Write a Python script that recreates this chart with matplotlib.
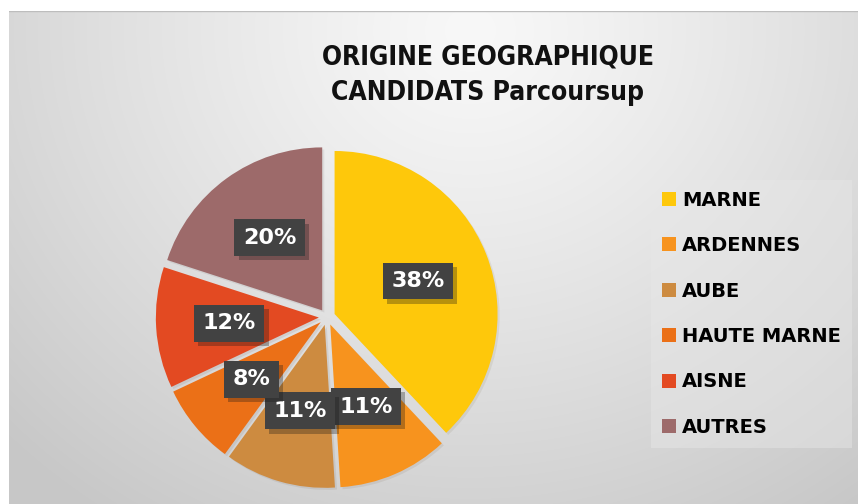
import numpy as np
import matplotlib
matplotlib.use('Agg')
import matplotlib.pyplot as plt
import matplotlib.patheffects as pe
from matplotlib.patches import Patch

# données
categories = ['MARNE', 'ARDENNES', 'AUBE', 'HAUTE MARNE', 'AISNE', 'AUTRES']
pourcentages = [38, 11, 11, 8, 12, 20]
couleurs = ['#FEC80B', '#F7931E', '#CD8B40', '#EB7017', '#E34A22', '#9D6A6A']
titre = 'ORIGINE GEOGRAPHIQUE\nCANDIDATS Parcoursup'

W, H = 858, 504
fig = plt.figure(figsize=(W / 100, H / 100), dpi=100, facecolor='white')

# fond dégradé gris
bg = fig.add_axes([9 / W, 0, (W - 9) / W, (H - 11) / H])
xx, yy = np.meshgrid(np.arange(9, W), np.arange(11, H))
d = np.sqrt((xx - 470) ** 2 + ((yy - 30) * 1.1) ** 2)
v = 248 - 48 * np.clip(d / 640, 0, 1) ** 1.2
img = np.dstack([v, v, v]) / 255.0
bg.imshow(img, aspect='auto', extent=[0, 1, 0, 1], origin='upper')
bg.set_axis_off()
bg.plot([0, 1], [0.999, 0.999], color='#bdbdbd', lw=1)

# camembert
R = 163
cx, cy = 327, 317
size = 420
ax = fig.add_axes([(cx - size / 2) / W, (H - cy - size / 2) / H, size / W, size / H])
lim = size / (2 * R)
wedges, texts, autotexts = ax.pie(
    pourcentages, colors=couleurs, startangle=90, counterclock=False,
    explode=[0.05] * len(pourcentages), autopct='%d%%', pctdistance=0.55,
    wedgeprops=dict(linewidth=0),
    textprops=dict(color='white', fontsize=16, fontweight='bold', family='DejaVu Sans'))
for w in wedges:
    w.set_path_effects([pe.SimplePatchShadow(offset=(1.5, -1.5), alpha=0.08), pe.Normal()])
for t in autotexts:
    t.set_bbox(dict(boxstyle='square,pad=0.38', facecolor='#424242', edgecolor='none'))
    t.get_bbox_patch().set_path_effects([pe.SimplePatchShadow(offset=(3, -3), alpha=0.3), pe.Normal()])
ax.set_xlim(-lim, lim)
ax.set_ylim(-lim, lim)
ax.set_aspect('equal')
ax.set_axis_off()

# titre
fig.text(488 / W, 1 - 75 / H, titre, ha='center', va='center', fontsize=19,
         fontweight='bold', family='DejaVu Sans', fontstretch='condensed',
         linespacing=1.45, color='#111111')

# légende
handles = [Patch(facecolor=c, edgecolor='none') for c in couleurs]
leg = fig.legend(handles, categories, loc='upper left',
                 bbox_to_anchor=(651 / W, 1 - 180 / H), frameon=True,
                 handlelength=0.75, handleheight=0.75, handletextpad=0.3,
                 labelspacing=1.36, borderpad=0.55, borderaxespad=0,
                 prop=dict(weight='bold', size=14, family='DejaVu Sans'))
leg.get_frame().set_facecolor('#e8e8e8')
leg.get_frame().set_edgecolor('none')
leg.get_frame().set_alpha(0.45)
leg.get_frame().set_boxstyle('square', pad=0)

fig.savefig('out.png', dpi=100, facecolor='white')
